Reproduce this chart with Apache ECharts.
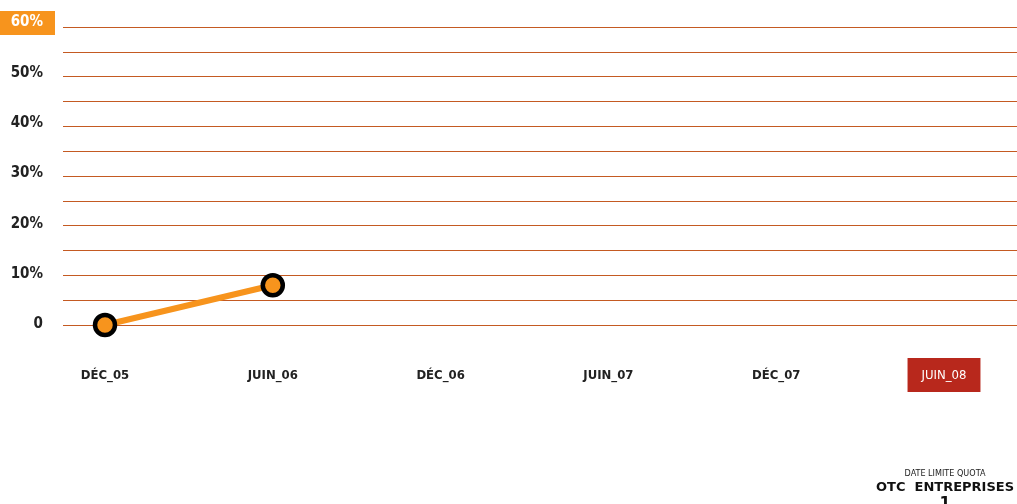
<!DOCTYPE html>
<html>
<head>
<meta charset="utf-8">
<script src="https://cdn.jsdelivr.net/npm/echarts@6/dist/echarts.min.js"></script>
<style>
  html, body { margin: 0; padding: 0; background: #fff; }
  #chart { width: 1017px; height: 504px; }
</style>
</head>
<body>
<div id="chart"></div>
<script>
// dates on the x axis
const periods = ['DÉC_05', 'JUIN_06', 'DÉC_06', 'JUIN_07', 'DÉC_07', 'JUIN_08']
// share (%) reached per period, only the first two are known
const shares = [0, 8, null, null, null, null]
// y ticks every 5, labels every 10
const yMin = 0
const yMax = 60
const yStep = 5
const yLabelStep = 10

const font = '"DejaVu Sans Condensed", "DejaVu Sans", sans-serif'
const chart = echarts.init(document.getElementById('chart'), null, {renderer: 'canvas'})

const option = {
  animation: false,
  grid: [
    // grid lines
    {left: 63, right: 0, top: 27, bottom: 179, outerBoundsMode: 'none'},
    // the line itself, first point to last period
    {left: 105, right: 73, top: 27, bottom: 179, outerBoundsMode: 'none'},
    // y labels sit a little above their lines
    {left: 63, right: 0, top: 23, bottom: 179, outerBoundsMode: 'none'}
  ],
  xAxis: [
    {gridIndex: 0, type: 'category', data: periods, show: false},
    {
      gridIndex: 1,
      type: 'category',
      data: periods,
      boundaryGap: false,
      axisLine: {show: false},
      axisTick: {show: false},
      axisLabel: {
        margin: 33,
        formatter: function (v, i) {
          return i === periods.length - 1 ? '{hl|' + v + '}' : '{n|' + v + '}'
        },
        rich: {
          n: {
            color: '#222',
            fontFamily: font,
            fontWeight: 'bold',
            fontSize: 13,
            padding: [11, 14, 10, 14]
          },
          hl: {
            color: '#fff',
            fontFamily: font,
            fontSize: 13,
            backgroundColor: '#b8281c',
            padding: [11, 14, 10, 14]
          }
        }
      }
    },
    {gridIndex: 2, type: 'category', data: periods, show: false}
  ],
  yAxis: [
    {
      gridIndex: 0,
      type: 'value',
      min: yMin,
      max: yMax,
      interval: yStep,
      axisLine: {show: false},
      axisTick: {show: false},
      axisLabel: {show: false},
      splitLine: {lineStyle: {color: '#c45a22', width: 1}}
    },
    {gridIndex: 1, type: 'value', min: yMin, max: yMax, interval: yStep, show: false},
    {
      gridIndex: 2,
      type: 'value',
      min: yMin,
      max: yMax,
      interval: yLabelStep,
      axisLine: {show: false},
      axisTick: {show: false},
      splitLine: {show: false},
      axisLabel: {
        margin: 8,
        formatter: function (v) {
          if (v === yMax) return '{top|' + v + '%}'
          return '{n|' + (v === 0 ? '0' : v + '%') + '}'
        },
        rich: {
          n: {
            color: '#222',
            fontFamily: font,
            fontWeight: 'bold',
            fontSize: 15,
            padding: [4, 12, 5, 12]
          },
          top: {
            color: '#fff',
            fontFamily: font,
            fontWeight: 'bold',
            fontSize: 15,
            backgroundColor: '#f7941d',
            padding: [4, 12, 5, 12]
          }
        }
      }
    }
  ],
  series: [{
    type: 'line',
    xAxisIndex: 1,
    yAxisIndex: 1,
    data: shares,
    symbol: 'circle',
    symbolSize: 20,
    lineStyle: {color: '#f7941d', width: 6},
    itemStyle: {color: '#f7941d', borderColor: '#000', borderWidth: 4.5}
  }],
  graphic: [
    {
      type: 'text', x: 945, y: 474,
      style: {text: 'DATE LIMITE QUOTA', align: 'center', verticalAlign: 'middle',
        fill: '#222', font: '9px ' + font}
    },
    {
      type: 'text', x: 945, y: 488,
      style: {text: 'OTC  ENTREPRISES', align: 'center', verticalAlign: 'middle',
        fill: '#111', font: 'bold 13px "DejaVu Sans", sans-serif'}
    },
    {
      type: 'text', x: 945, y: 504,
      style: {text: '1', align: 'center', verticalAlign: 'middle',
        fill: '#111', font: 'bold 16px "DejaVu Sans", sans-serif'}
    }
  ]
}

chart.setOption(option)
</script>
</body>
</html>
